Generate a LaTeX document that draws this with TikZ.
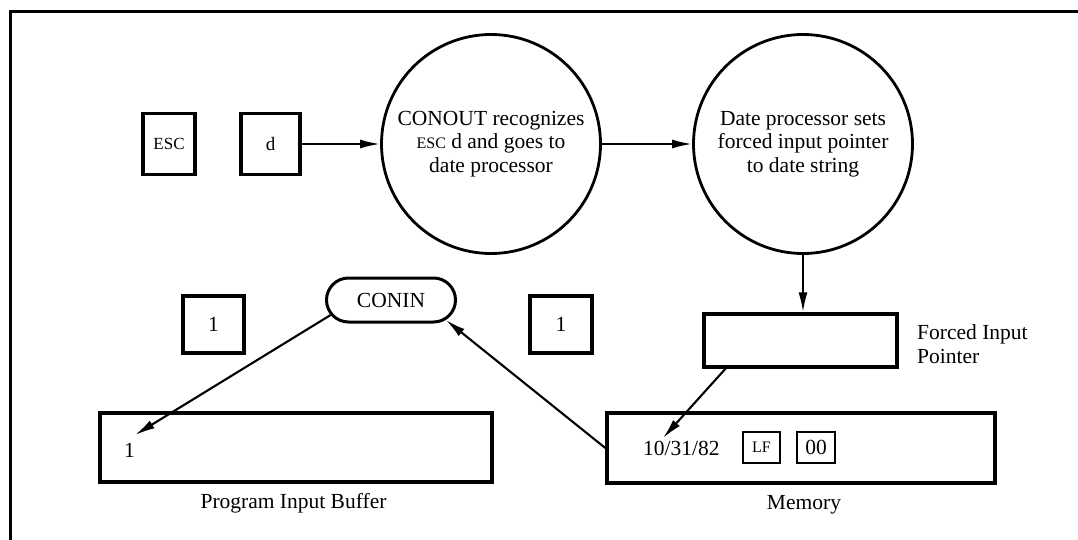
\documentclass[tikz,border=0pt]{standalone}
\usepackage{fontspec}
\setmainfont{Liberation Serif}
\usetikzlibrary{arrows.meta,shapes.misc}
\newcommand{\smallcap}[1]{{\fontsize{16}{16}\selectfont #1}}
\begin{document}
\begin{tikzpicture}[x=1pt,y=-1pt,
  font=\fontsize{21.5}{23.5}\selectfont,
  box/.style={draw, line width=3.4pt, inner sep=0pt},
  bubble/.style={draw, circle, line width=2.8pt, inner sep=0pt, align=center, minimum size=219pt},
  tinybox/.style={draw, line width=2.4pt, inner sep=0pt, minimum width=37pt, minimum height=31pt},
  flow/.style={draw, line width=2.1pt, -{Latex[length=20pt,width=9pt]}}]
\useasboundingbox (0,0) rectangle (1078,540);
\draw[line width=3pt] (1078,12) -- (10,12) -- (10,540);
% top row
\node[box, minimum width=52pt, minimum height=61pt] (esc) at (169,144) {{\fontsize{17}{17}\selectfont ESC}};
\node[box, minimum width=59pt, minimum height=61pt] (dd) at (270.5,144) {{\fontsize{19}{19}\selectfont d}};
\node[bubble] (conout) at (491,144) {CONOUT recognizes\\\smallcap{ESC} d and goes to\\date processor};
\node[bubble] (datep) at (803,144) {Date processor sets\\forced input pointer\\to date string};
% pointer and memory
\node[box, minimum width=193pt, minimum height=53pt] (fip) at (800.5,340.5) {};
\node[anchor=west, align=left, inner sep=0pt] (fiplabel) at (917,344) {Forced Input\\Pointer};
\node[box, minimum width=388pt, minimum height=70pt] (mem) at (801,448) {};
\node[anchor=base west, inner sep=0pt] (date) at (643,455) {10/31/82};
\node[tinybox] (lf) at (761.5,447.5) {\smallcap{LF}};
\node[tinybox, minimum width=38pt] (zz) at (816,447.5) {00};
\node[anchor=base, inner sep=0pt] (memlabel) at (804,509) {Memory};
% console input
\node[draw, rounded rectangle, line width=3pt, minimum width=129pt, minimum height=44pt, inner sep=0pt] (conin) at (391,300) {CONIN};
\node[box, minimum width=61pt, minimum height=57pt] (one1) at (213.5,324.5) {1};
\node[box, minimum width=62pt, minimum height=57pt] (one2) at (561,324.5) {1};
\node[box, minimum width=392pt, minimum height=69pt] (pib) at (296,447.5) {};
\node[anchor=base west, inner sep=0pt] (pibone) at (124,457) {1};
\node[anchor=base, inner sep=0pt] (piblabel) at (293.5,508) {Program Input Buffer};
\coordinate (fipout) at (727,367);
\coordinate (datein) at (663,438);
\coordinate (pibin) at (135,435);
% connectors
\path[flow] (dd) -- (conout);
\path[flow] (conout) -- (datep);
\path[flow] (datep.south) -- (datep.south |- fip.north);
\path[flow] (fipout) -- (datein);
\path[flow] (mem.west) -- (conin.-20);
\path[flow] (conin.194) -- (pibin);
\end{tikzpicture}
\end{document}
